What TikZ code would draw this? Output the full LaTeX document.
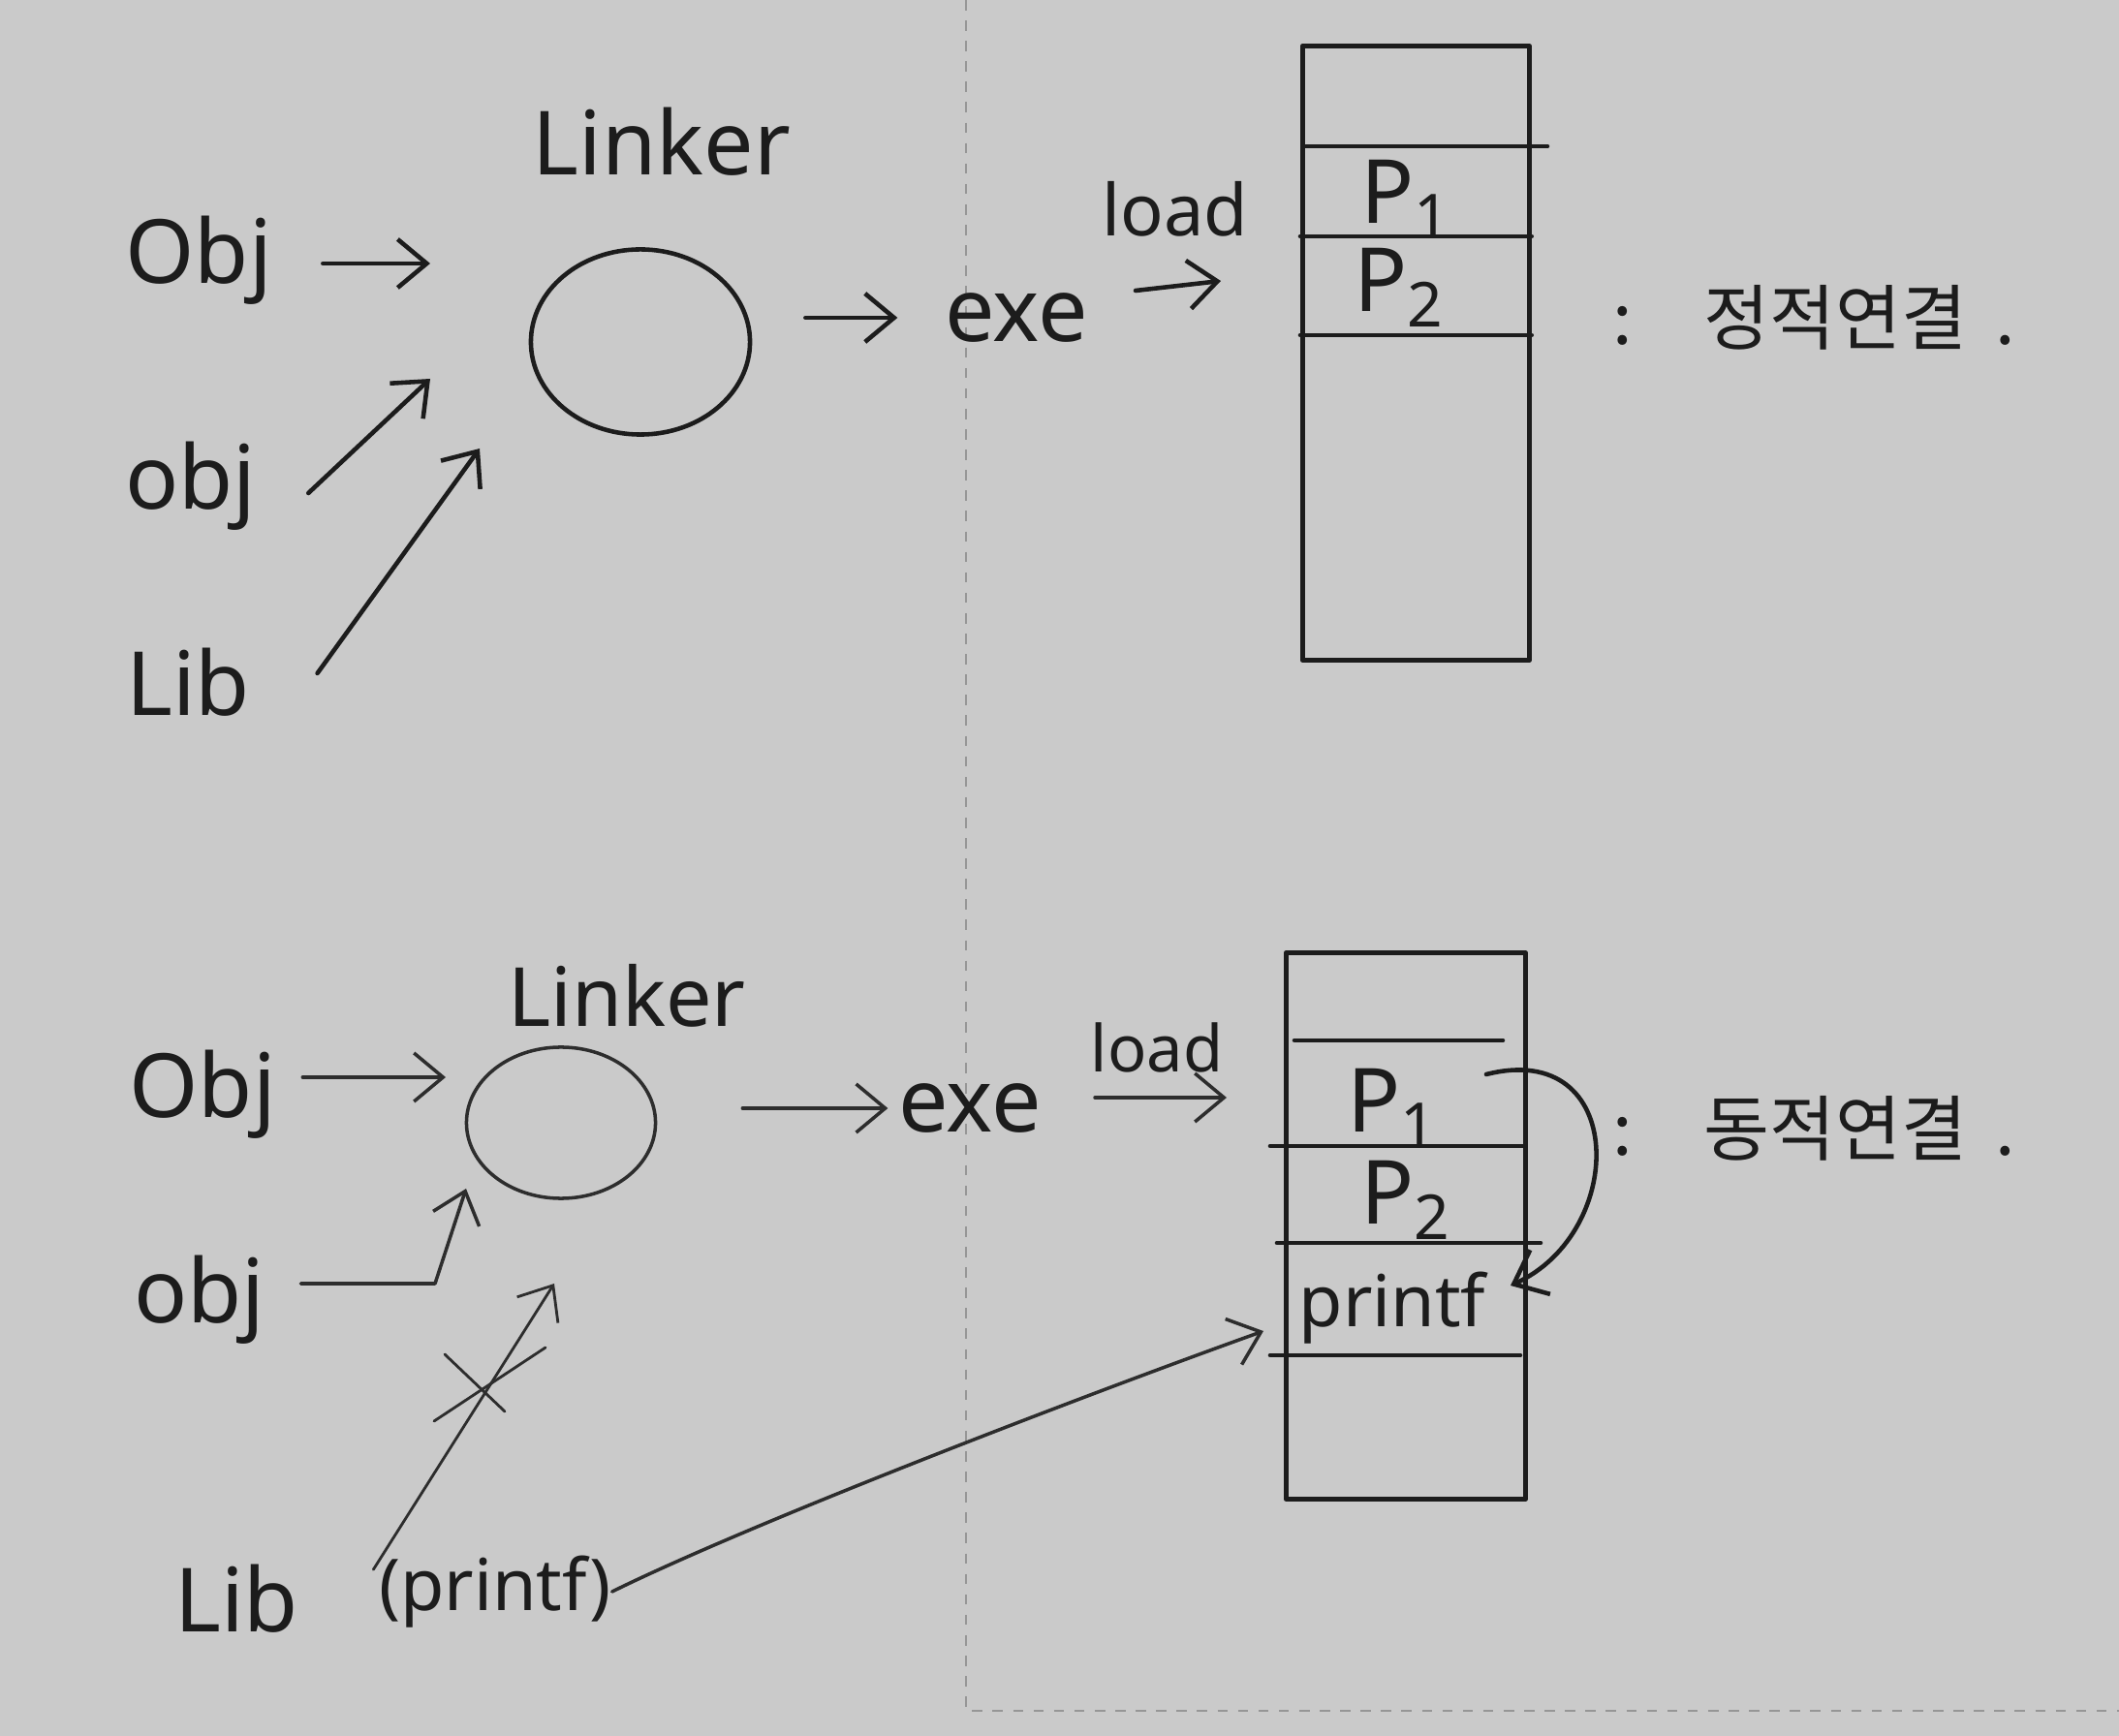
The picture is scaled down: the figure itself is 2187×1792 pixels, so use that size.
\documentclass[tikz,border=0pt]{standalone}
\usepackage{fontspec}
\setmainfont{Noto Sans}
\newfontfamily\kofont{Noto Sans CJK KR}
\usetikzlibrary{arrows.meta,shapes.geometric}
\definecolor{paper}{RGB}{202,202,202}
\definecolor{pen}{RGB}{28,28,28}
\definecolor{pencil}{RGB}{45,45,45}
\definecolor{fold}{RGB}{150,150,150}

\begin{document}
\begin{tikzpicture}[x=0.01cm, y=-0.01cm,
        pen/.style = {draw=pen, line width=1.3pt, line cap=round, line join=round},
        thin pen/.style = {draw=pencil, line width=1pt, line cap=round, line join=round},
        arr/.style = {pen, -{Straight Barb[length=3mm,width=5mm]}},
        thin arr/.style = {thin pen, -{Straight Barb[length=3mm,width=5mm]}},
        word/.style = {text=pen, font=\fontsize{26}{30}\selectfont, inner sep=0pt},
        small word/.style = {text=pen, font=\fontsize{21}{25}\selectfont, inner sep=0pt},
        ko/.style = {text=pen, font=\kofont\fontsize{21}{25}\selectfont, inner sep=0pt},
        linker/.style = {ellipse, inner sep=0pt},
        mem/.style = {rectangle, inner sep=0pt, anchor=north west}
    ]
        \fill[paper] (0,0) rectangle (2187,1792);
        \useasboundingbox (0,0) rectangle (2187,1792);
        \draw[fold, dashed, line width=0.6pt] (997,0) -- (997,1766) -- (2187,1766);

        % static
        \node[word] at (683,146) {Linker};
        \node[word] (obj1) at (205,269) {Obj};
        \node[word] (obj2) at (197,502) {obj};
        \node[word] (lib1) at (194,704) {Lib};
        \node[linker, pen, minimum width=22.6mm, minimum height=19.1mm] (lnk1) at (661,353) {};
        \node[word] (exe1) at (1049,328) {exe};
        \node[small word] (load1) at (1213,216) {load};
        \coordinate (in1) at (444,272);
        \coordinate (in2) at (444,391);
        \coordinate (in3) at (495,463);
        \coordinate (ld1) at (1260,290);
        \draw[arr] ([shift={(52,3)}]obj1.east) -- (in1);
        \draw[arr] ([shift={(53,7)}]obj2.east) -- (in2);
        \draw[arr] ([shift={(69,-9)}]lib1.east) -- (in3);
        \draw[arr, shorten <=5.5mm, shorten >=4.8mm] (lnk1.east |- exe1) -- (exe1.west);
        \draw[arr] ([shift={(-41,0)}]load1.south |- 0,300) -- (ld1);

        \node[mem, pen, minimum width=23.4mm, minimum height=63.4mm] (mem1) at (1342,45) {};
        \draw[pen] (1346,151) -- (1597,151);
        \draw[pen] (mem1.west |- 0,244) -- (mem1.east |- 0,244);
        \draw[pen] (mem1.west |- 0,346) -- (mem1.east |- 0,346);
        \node[word] (p11) at (1451,206) {P\textsubscript{1}};
        \node[word] (p21) at (1444,297) {P\textsubscript{2}};
        \node[ko] (static) at (1872,328) {:\quad 정적연결\, .};

        % dynamic
        \node[word, font=\fontsize{24}{28}\selectfont] at (647,1028) {Linker};
        \node[word] (obj3) at (209,1130) {Obj};
        \node[word] (obj4) at (206,1342) {obj};
        \node[word] (lib2) at (244,1650) {Lib};
        \node[small word] (pf) at (511,1643) {(printf)};
        \node[linker, thin pen, minimum width=19.5mm, minimum height=15.6mm] (lnk2) at (579,1159) {};
        \node[word] (exe2) at (1001,1144) {exe};
        \node[small word, font=\fontsize{19}{23}\selectfont] (load2) at (1194,1081) {load};
        \coordinate (in4) at (460,1112);
        \coordinate (bend) at (449,1325);
        \coordinate (in5) at (481,1227);
        \coordinate (in6) at (572,1325);
        \coordinate (ld2) at (1266,1133);
        \draw[thin arr] ([shift={(27,0)}]obj3.east |- in4) -- (in4);
        \draw[thin arr] ([shift={(36,-17)}]obj4.east) -- (bend) -- (in5);
        \draw[thin arr, line width=0.8pt] ([shift={(-5,15)}]pf.north west) -- (in6);
        \draw[thin pen, line width=0.8pt] (448,1467) -- (563,1391);
        \draw[thin pen, line width=0.8pt] (459,1398) -- (521,1457);
        \draw[thin arr, shorten <=8.8mm, shorten >=1mm] (lnk2.east |- exe2) -- (exe2.west);
        \draw[thin arr] ([shift={(-64,0)}]load2.south |- ld2) -- (ld2);

        \node[mem, pen, minimum width=24.7mm, minimum height=56.4mm] (mem2) at (1325,981) {};
        \draw[pen] (1336,1074) -- (1551,1074);
        \draw[pen] (1311,1183) -- (1572,1183);
        \draw[pen] (1318,1283) -- (1590,1283);
        \draw[pen] (1311,1399) -- (1569,1399);
        \node[word] (p12) at (1437,1144) {P\textsubscript{1}};
        \node[word] (p22) at (1451,1239) {P\textsubscript{2}};
        \node[small word] (pf2) at (1437,1350) {printf};
        \coordinate (call) at (1534,1109);
        \coordinate (ret) at (1559,1327);
        \coordinate (got) at (1304,1374);
        \draw[arr] (call) .. controls (1680,1072) and (1680,1272) .. (ret);
        \draw[thin arr] (pf.east) .. controls (780,1570) and (1120,1440) .. (got);
        \node[ko] (dynamic) at (1872,1165) {:\quad 동적연결\, .};
    \end{tikzpicture}
\end{document}
